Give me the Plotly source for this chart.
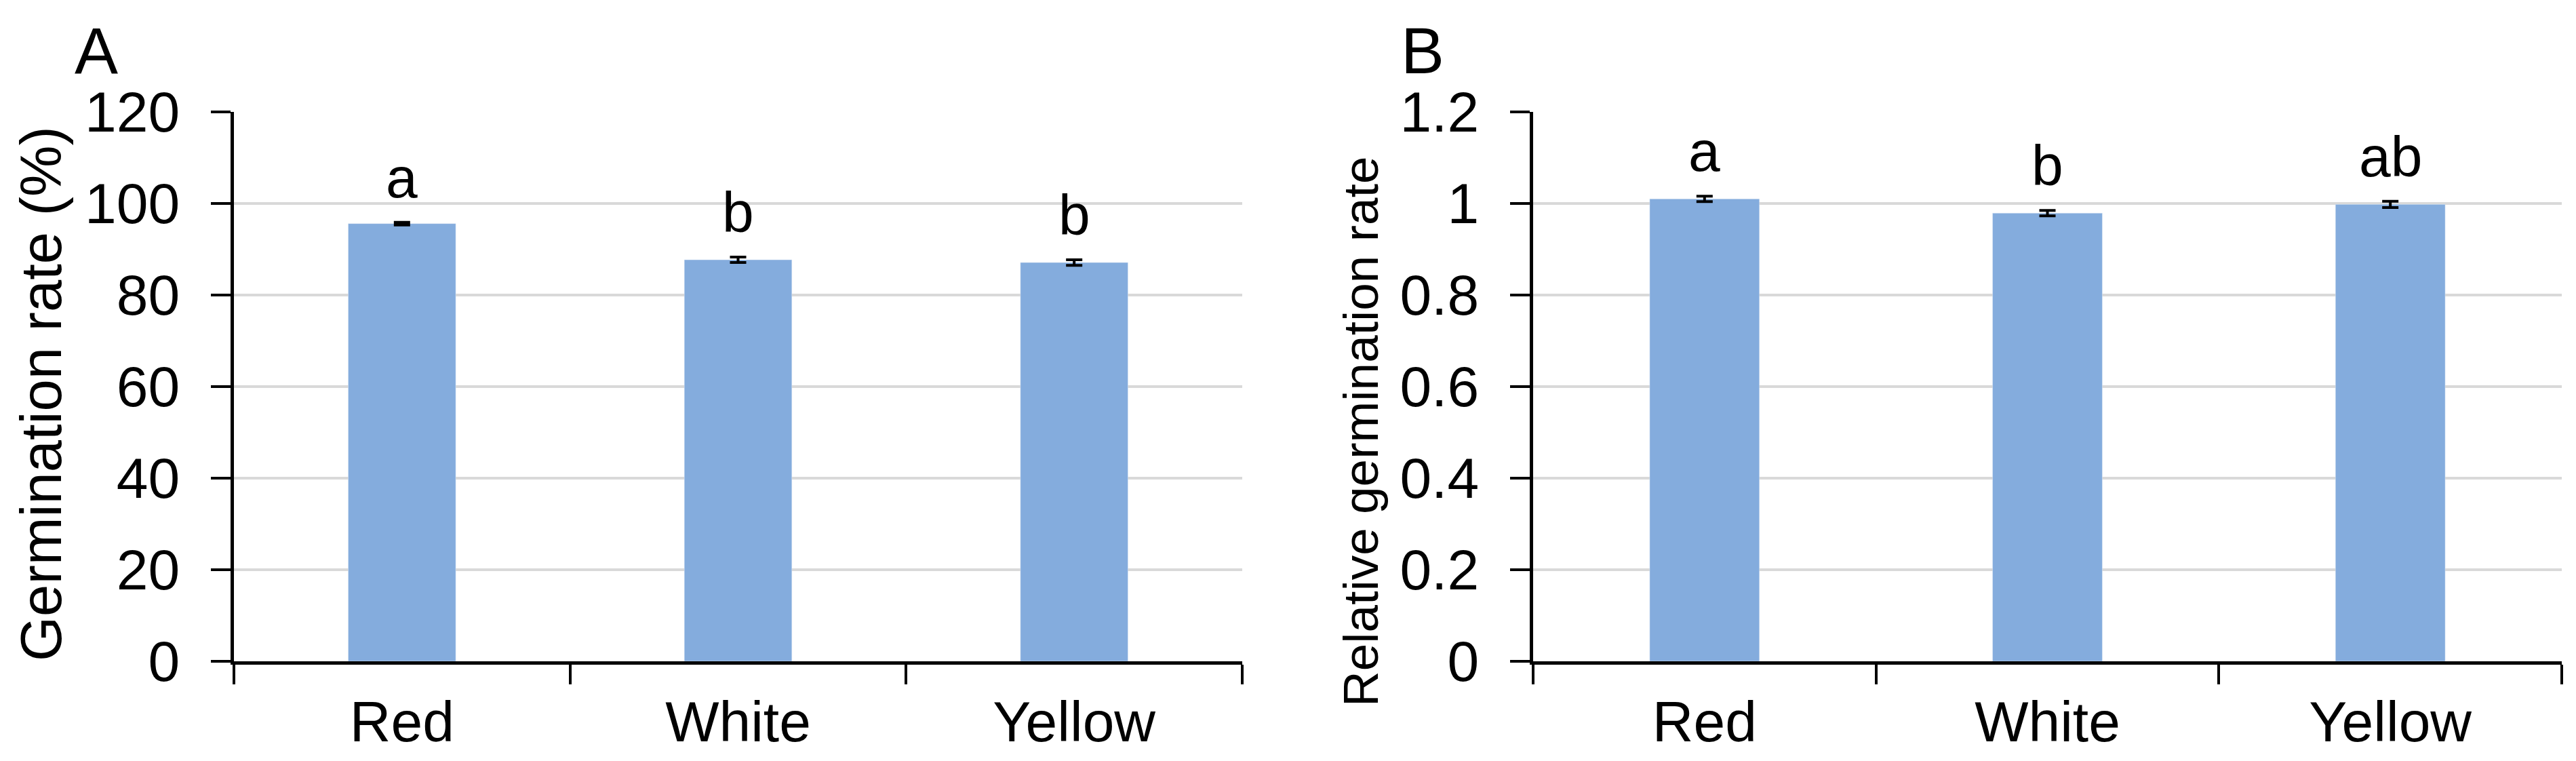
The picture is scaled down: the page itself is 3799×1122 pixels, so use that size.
import plotly.graph_objects as go

W, H = 3799, 1122

categories = ["Red", "White", "Yellow"]
germ_rate = [95.6, 87.7, 87.1]
germ_err = [0.3, 0.6, 0.6]
germ_letters = ["a", "b", "b"]
rel_rate = [1.010, 0.979, 0.998]
rel_err = [0.006, 0.006, 0.007]
rel_letters = ["a", "b", "ab"]

BAR = "#84ACDD"
FONT = "Liberation Sans, Arial, sans-serif"

def px_x(p):
    return p / W

def px_y(p):
    return (H - p) / H

fig = go.Figure()
fig.add_trace(go.Bar(x=categories, y=germ_rate, marker_color=BAR, width=0.32,
                     error_y=dict(type="data", array=germ_err, color="black", thickness=4, width=12),
                     xaxis="x", yaxis="y", showlegend=False))
fig.add_trace(go.Bar(x=categories, y=rel_rate, marker_color=BAR, width=0.32,
                     error_y=dict(type="data", array=rel_err, color="black", thickness=4, width=12),
                     xaxis="x2", yaxis="y2", showlegend=False))

ydom = [px_y(967), px_y(157)]
common_x = dict(type="category", range=[-0.5, 2.5], showline=True, linecolor="black", linewidth=5,
                ticks="outside", ticklen=29, tickwidth=4, tickcolor="black", tickson="boundaries",
                showgrid=False, zeroline=False, tickfont=dict(family=FONT, size=84, color="black"),
                ticklabelstandoff=12, fixedrange=True, automargin=False)
common_y = dict(showline=True, linecolor="black", linewidth=5, ticks="outside", ticklen=29,
                tickwidth=4, tickcolor="black", showgrid=True, gridcolor="#D9D9D9", gridwidth=4,
                zeroline=False, tickfont=dict(family=FONT, size=84, color="black"),
                ticklabelstandoff=29, domain=ydom, automargin=False)

fig.update_layout(
    width=W, height=H, margin=dict(l=0, r=0, t=0, b=0, autoexpand=False),
    paper_bgcolor="white", plot_bgcolor="white",
    font=dict(family=FONT, color="black"),
    bargap=0.68,
    xaxis=dict(domain=[px_x(337), px_x(1824)], anchor="y", **common_x),
    yaxis=dict(range=[0, 120], dtick=20, anchor="x", **common_y),
    xaxis2=dict(domain=[px_x(2253), px_x(3770)], anchor="y2", **common_x),
    yaxis2=dict(range=[0, 1.2], dtick=0.2, anchor="x2", **common_y),
)

ann = []
for c, v, e, t in zip(categories, germ_rate, germ_err, germ_letters):
    ann.append(dict(x=c, y=v + e, xref="x", yref="y", text=t, showarrow=False,
                    yanchor="bottom", yshift=17, font=dict(family=FONT, size=84, color="black")))
for c, v, e, t in zip(categories, rel_rate, rel_err, rel_letters):
    ann.append(dict(x=c, y=v + e, xref="x2", yref="y2", text=t, showarrow=False,
                    yanchor="bottom", yshift=17, font=dict(family=FONT, size=84, color="black")))

# axis titles
ann.append(dict(x=px_x(52), y=px_y(573), xref="paper", yref="paper", text="Germination rate (%)",
                textangle=-90, showarrow=False, xanchor="center", yanchor="middle",
                font=dict(family=FONT, size=85, color="black")))
ann.append(dict(x=px_x(1998), y=px_y(628), xref="paper", yref="paper", text="Relative germination rate",
                textangle=-90, showarrow=False, xanchor="center", yanchor="middle",
                font=dict(family=FONT, size=73, color="black")))
# panel letters
ann.append(dict(x=px_x(100), y=px_y(66), xref="paper", yref="paper", text="A", showarrow=False,
                xanchor="left", yanchor="middle", font=dict(family=FONT, size=96, color="black")))
ann.append(dict(x=px_x(2056), y=px_y(66), xref="paper", yref="paper", text="B", showarrow=False,
                xanchor="left", yanchor="middle", font=dict(family=FONT, size=96, color="black")))

fig.update_layout(annotations=ann)
fig.write_html("out.html")
